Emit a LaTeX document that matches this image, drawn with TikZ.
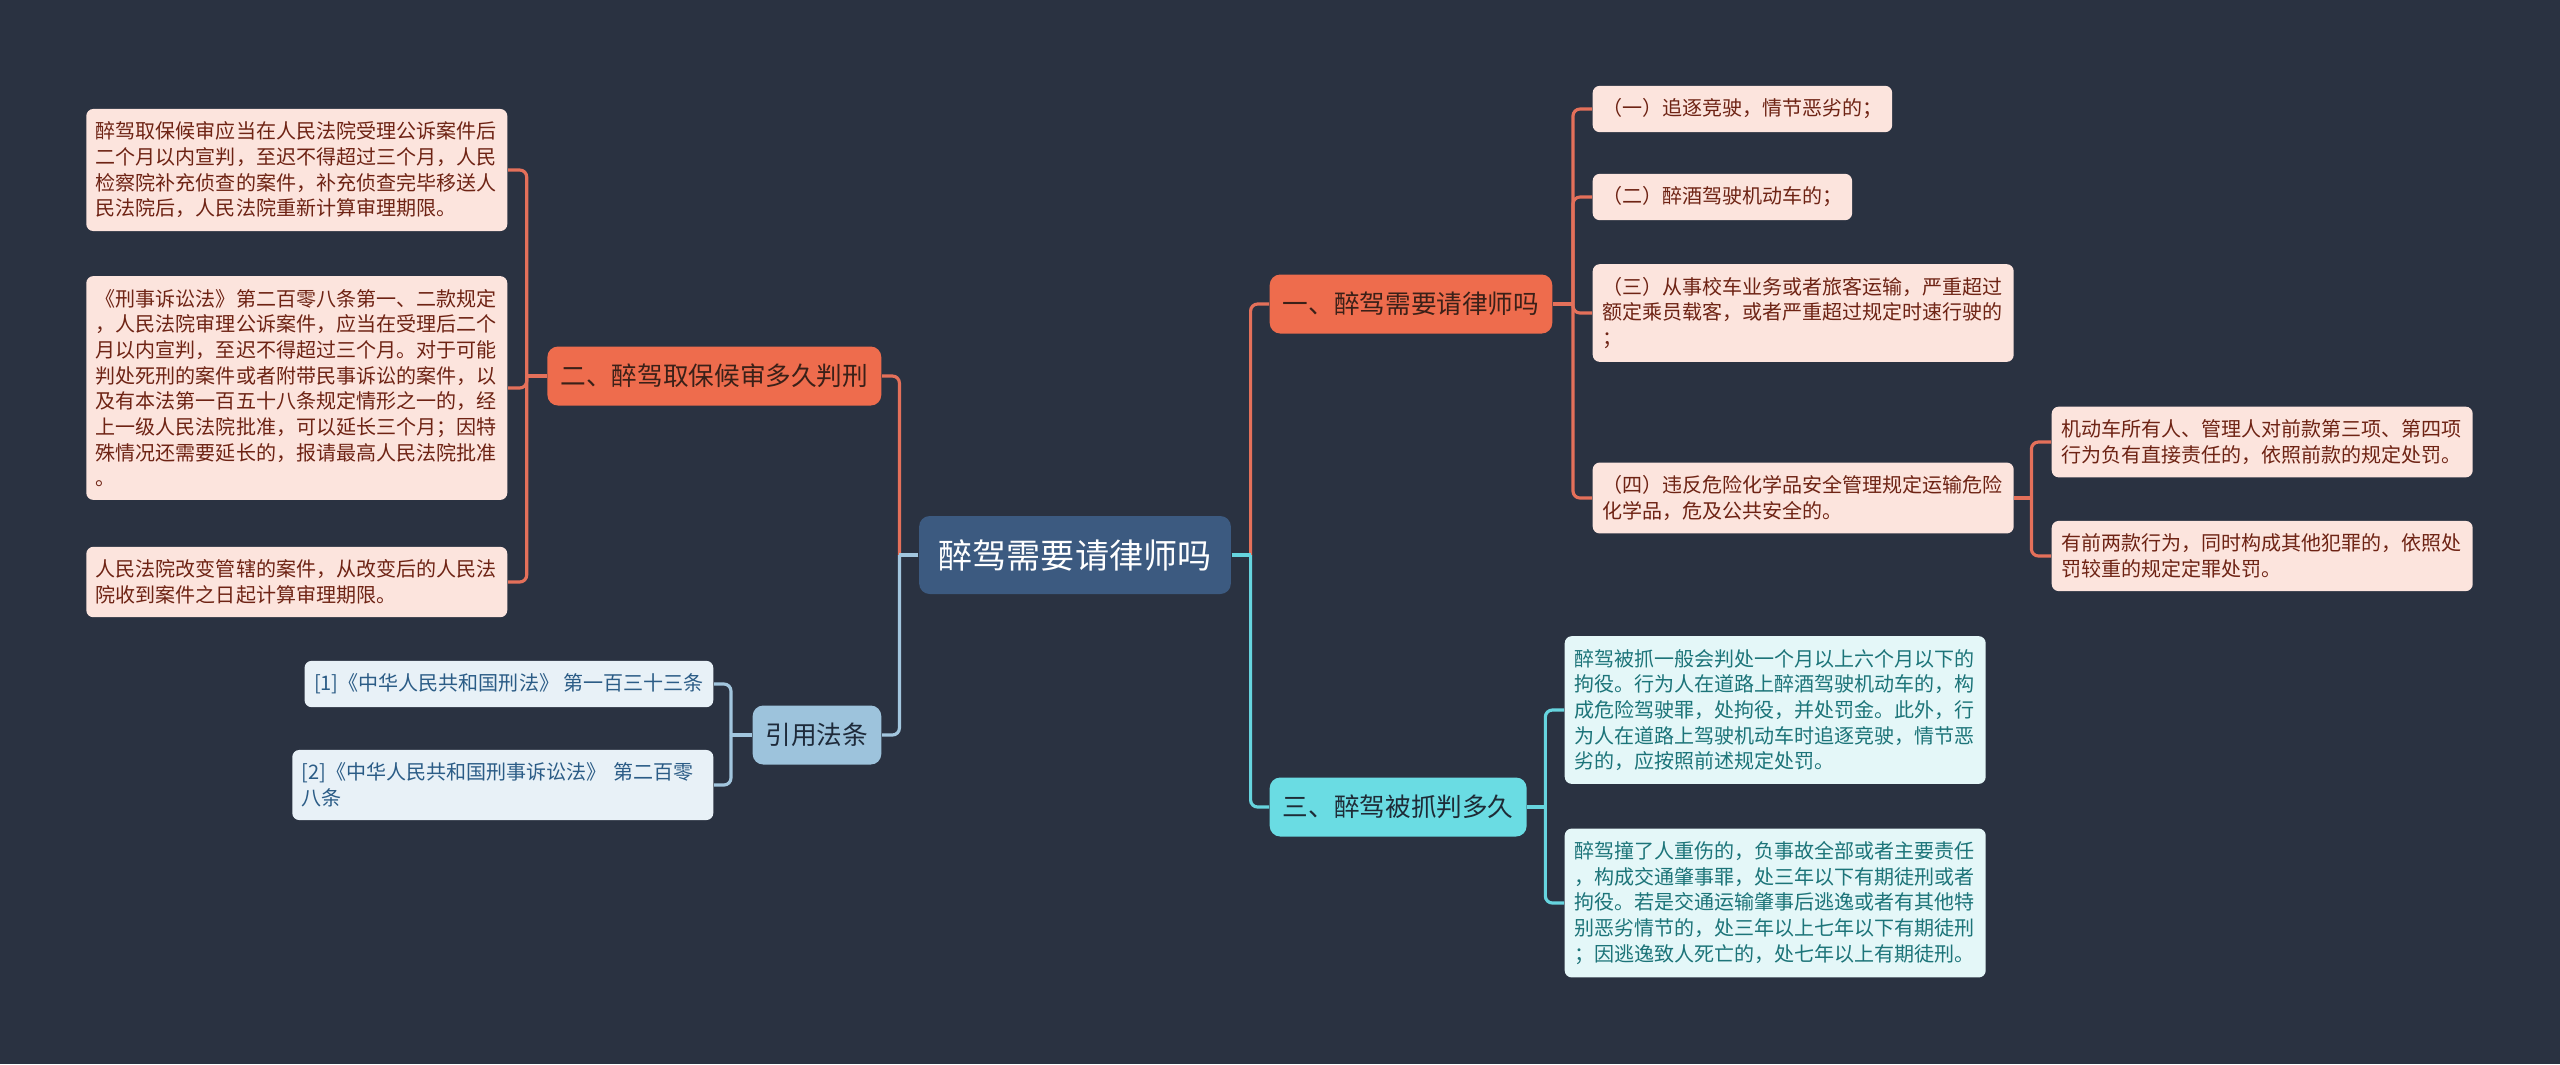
\documentclass[tikz,border=0pt]{standalone}
\usepackage{fontspec}
\setmainfont{Noto Sans CJK SC}
\usepackage{xcolor}
\usepackage{tikz}
\usetikzlibrary{positioning,calc}
\definecolor{bg}{HTML}{2A3241}
\definecolor{rootbg}{HTML}{3C5A80}
\definecolor{hot}{HTML}{EE6C4D}
\definecolor{hotln}{HTML}{E4705A}
\definecolor{hotlf}{HTML}{FCE4DD}
\definecolor{hotink}{HTML}{6E2314}
\definecolor{hotdk}{HTML}{3A2018}
\definecolor{aqua}{HTML}{6ADCE3}
\definecolor{aqualn}{HTML}{66D4DE}
\definecolor{aqualf}{HTML}{E4F7F8}
\definecolor{aquaink}{HTML}{1C7479}
\definecolor{aquadk}{HTML}{1E2B36}
\definecolor{sky}{HTML}{9DC3DC}
\definecolor{skyln}{HTML}{A2C6DE}
\definecolor{skylf}{HTML}{E8F1F7}
\definecolor{skyink}{HTML}{2B5C86}
\definecolor{skydk}{HTML}{1E2A3A}

\begin{document}
\begin{tikzpicture}[
  topic/.style={fill=rootbg,text=white,rounded corners=3pt,font=\fontsize{9.7}{12}\selectfont,inner xsep=0.195cm,minimum height=0.78cm},
  branch/.style={rounded corners=3pt,font=\fontsize{7.3}{9}\selectfont,inner xsep=0.13cm,minimum height=0.59cm},
  hotbr/.style={branch,fill=hot,text=hotdk},
  aquabr/.style={branch,fill=aqua,text=aquadk},
  skybr/.style={branch,fill=sky,text=skydk},
  leaf/.style={rounded corners=2pt,font=\fontsize{5.7}{7.3}\selectfont,inner xsep=0.095cm,inner ysep=0.13cm,align=left},
  hotlf/.style={leaf,fill=hotlf,text=hotink},
  aqualf/.style={leaf,fill=aqualf,text=aquaink},
  skylf/.style={leaf,fill=skylf,text=skyink},
  wide/.style={text width=4.02cm},
  hotline/.style={draw=hotln,line width=0.9pt,rounded corners=2pt},
  aqualine/.style={draw=aqualn,line width=0.9pt,rounded corners=2pt},
  skyline/.style={draw=skyln,line width=0.9pt,rounded corners=2pt}]
  \path[use as bounding box,fill=bg] (0,0) rectangle (25.6,-10.64);

  % centre and main branches
  \node[topic] (root) at (10.75,-5.55) {醉驾需要请律师吗};
  \node[hotbr,anchor=east] (dur) at (8.82,-3.76) {二、醉驾取保候审多久判刑};
  \node[skybr,anchor=east] (law) at (8.82,-7.35) {引用法条};
  \node[hotbr,anchor=west] (need) at (12.69,-3.04) {一、醉驾需要请律师吗};
  \node[aquabr,anchor=west] (caught) at (12.69,-8.07) {三、醉驾被抓判多久};

  % left side
  \node[hotlf,wide,anchor=east] (dur1) at (5.08,-1.70) {醉驾取保候审应当在人民法院受理公诉案件后\\二个月以内宣判，至迟不得超过三个月，人民\\检察院补充侦查的案件，补充侦查完毕移送人\\民法院后，人民法院重新计算审理期限。};
  \node[hotlf,wide,anchor=east] (dur2) at (5.08,-3.88) {《刑事诉讼法》第二百零八条第一、二款规定\\，人民法院审理公诉案件，应当在受理后二个\\月以内宣判，至迟不得超过三个月。对于可能\\判处死刑的案件或者附带民事诉讼的案件，以\\及有本法第一百五十八条规定情形之一的，经\\上一级人民法院批准，可以延长三个月；因特\\殊情况还需要延长的，报请最高人民法院批准\\。};
  \node[hotlf,wide,anchor=east] (dur3) at (5.08,-5.82) {人民法院改变管辖的案件，从改变后的人民法\\院收到案件之日起计算审理期限。};
  \node[skylf,anchor=east] (law1) at (7.14,-6.84) {[1]《中华人民共和国刑法》 第一百三十三条};
  \node[skylf,wide,anchor=east] (law2) at (7.14,-7.85) {[2]《中华人民共和国刑事诉讼法》 第二百零\\八条};

  % right side
  \node[hotlf,anchor=west] (need1) at (15.92,-1.09) {（一）追逐竞驶，情节恶劣的；};
  \node[hotlf,anchor=west] (need2) at (15.92,-1.97) {（二）醉酒驾驶机动车的；};
  \node[hotlf,wide,anchor=west] (need3) at (15.92,-3.13) {（三）从事校车业务或者旅客运输，严重超过\\额定乘员载客，或者严重超过规定时速行驶的\\；};
  \node[hotlf,wide,anchor=west] (need4) at (15.92,-4.98) {（四）违反危险化学品安全管理规定运输危险\\化学品，危及公共安全的。};
  \node[hotlf,wide,anchor=west] (owner) at (20.51,-4.42) {机动车所有人、管理人对前款第三项、第四项\\行为负有直接责任的，依照前款的规定处罚。};
  \node[hotlf,wide,anchor=west] (other) at (20.51,-5.56) {有前两款行为，同时构成其他犯罪的，依照处\\罚较重的规定定罪处罚。};
  \node[aqualf,wide,anchor=west] (caught1) at (15.64,-7.10) {醉驾被抓一般会判处一个月以上六个月以下的\\拘役。行为人在道路上醉酒驾驶机动车的，构\\成危险驾驶罪，处拘役，并处罚金。此外，行\\为人在道路上驾驶机动车时追逐竞驶，情节恶\\劣的，应按照前述规定处罚。};
  \node[aqualf,wide,anchor=west] (caught2) at (15.64,-9.03) {醉驾撞了人重伤的，负事故全部或者主要责任\\，构成交通肇事罪，处三年以下有期徒刑或者\\拘役。若是交通运输肇事后逃逸或者有其他特\\别恶劣情节的，处三年以上七年以下有期徒刑\\；因逃逸致人死亡的，处七年以上有期徒刑。};

  % junctions
  \coordinate (rootR) at ($(root.east)+(0.19,0)$);
  \coordinate (rootL) at ($(root.west)+(-0.19,0)$);
  \coordinate (durJ) at ($(dur.west)+(-0.20,0)$);
  \coordinate (lawJ) at ($(law.west)+(-0.21,0)$);
  \coordinate (needJ) at ($(need.east)+(0.20,0)$);
  \coordinate (need4J) at ($(need4.east)+(0.17,0)$);
  \coordinate (caughtJ) at ($(caught.east)+(0.18,0)$);

  % connectors
  \draw[hotline] (rootR) |- (need.west);
  \draw[aqualine] (rootR) |- (caught.west);
  \draw[aqualine] (root.east) -- (rootR);
  \draw[hotline] (rootL) |- (dur.east);
  \draw[skyline] (rootL) |- (law.east);
  \draw[skyline] (root.west) -- (rootL);
  \draw[hotline] (dur.west) -- (durJ);
  \draw[hotline] (durJ) |- (dur1.east);
  \draw[hotline] (durJ) |- (dur2.east);
  \draw[hotline] (durJ) |- (dur3.east);
  \draw[skyline] (law.west) -- (lawJ);
  \draw[skyline] (lawJ) |- (law1.east);
  \draw[skyline] (lawJ) |- (law2.east);
  \draw[hotline] (need.east) -- (needJ);
  \draw[hotline] (needJ) |- (need1.west);
  \draw[hotline] (needJ) |- (need2.west);
  \draw[hotline] (needJ) |- (need3.west);
  \draw[hotline] (needJ) |- (need4.west);
  \draw[hotline] (need4.east) -- (need4J);
  \draw[hotline] (need4J) |- (owner.west);
  \draw[hotline] (need4J) |- (other.west);
  \draw[aqualine] (caught.east) -- (caughtJ);
  \draw[aqualine] (caughtJ) |- (caught1.west);
  \draw[aqualine] (caughtJ) |- (caught2.west);
\end{tikzpicture}
\end{document}
